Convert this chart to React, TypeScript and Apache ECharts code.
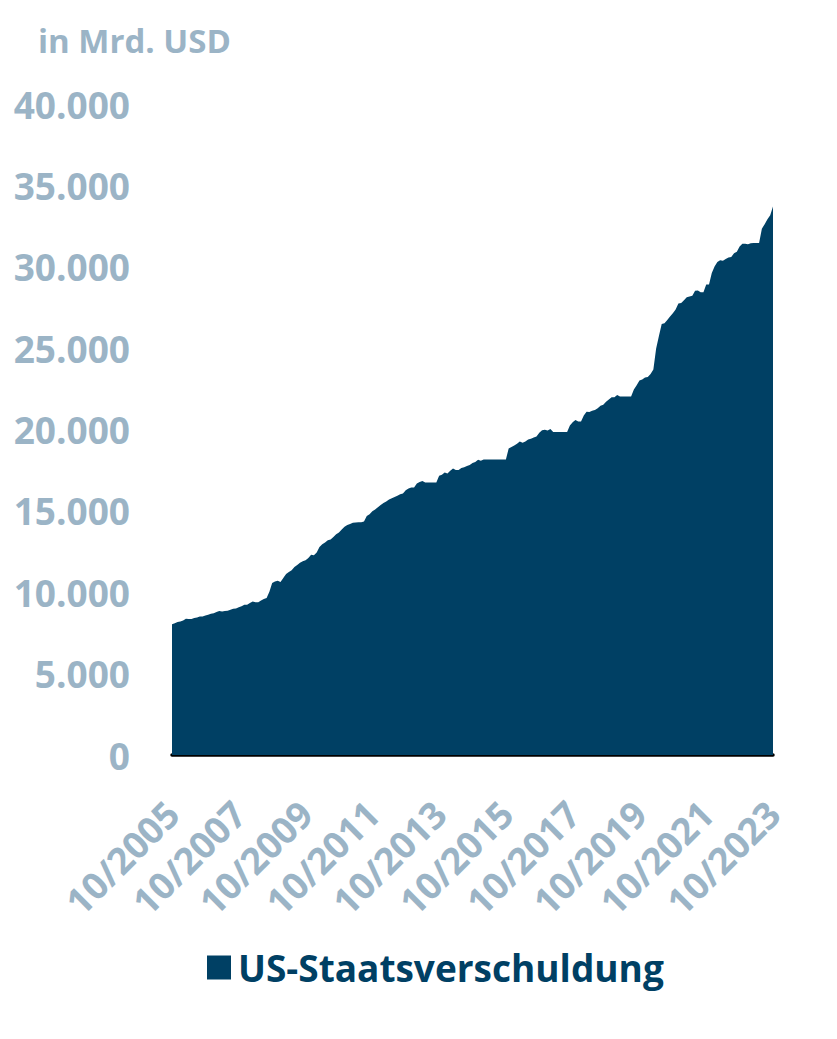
import React, { useEffect, useRef } from "react";
import * as echarts from "echarts";

const startYear = 2005;
const startMonth = 10;

// US total public debt, month end, in Mrd. USD (Oct 2005 .. Oct 2023)
const debt2005 = [8027, 8092, 8170];
const debt2006 = [8196, 8270, 8371, 8355, 8356, 8420, 8444, 8506, 8507, 8572, 8616, 8680];
const debt2007 = [8707, 8790, 8849, 8815, 8848, 8867, 8931, 8983, 9008, 9079, 9144, 9229];
const debt2008 = [9238, 9338, 9437, 9392, 9389, 9492, 9585, 9645, 10025, 10574, 10662, 10700];
const debt2009 = [10632, 10877, 11127, 11238, 11349, 11545, 11677, 11813, 11910, 11973, 12097, 12311];
const debt2010 = [12278, 12440, 12773, 12948, 13050, 13202, 13239, 13400, 13562, 13667, 13862, 14025];
const debt2011 = [14131, 14195, 14270, 14290, 14294, 14294, 14342, 14684, 14790, 14975, 15082, 15223];
const debt2012 = [15356, 15486, 15582, 15692, 15770, 15856, 15928, 16016, 16066, 16261, 16370, 16433];
const debt2013 = [16433, 16687, 16771, 16829, 16739, 16738, 16738, 16738, 16738, 17156, 17217, 17352];
const debt2014 = [17293, 17463, 17601, 17508, 17517, 17632, 17688, 17750, 17824, 17938, 18005, 18141];
const debt2015 = [18082, 18156, 18152, 18152, 18152, 18152, 18151, 18151, 18151, 18153, 18827, 18922];
const debt2016 = [19012, 19126, 19264, 19187, 19265, 19381, 19428, 19510, 19573, 19805, 19948, 19977];
const debt2017 = [19937, 20035, 19846, 19846, 19846, 19845, 19845, 19845, 20245, 20442, 20590, 20493];
const debt2018 = [20494, 20855, 21089, 21069, 21145, 21195, 21313, 21458, 21516, 21702, 21850, 21974];
const debt2019 = [21982, 22115, 22028, 22028, 22028, 22023, 22023, 22460, 22719, 23008, 23076, 23201];
const debt2020 = [23224, 23409, 23687, 24974, 25746, 26477, 26525, 26728, 26945, 27141, 27375, 27748];
const debt2021 = [27780, 27940, 28133, 28176, 28225, 28529, 28543, 28428, 28428, 28908, 28909, 29617];
const debt2022 = [30012, 30290, 30401, 30366, 30470, 30568, 30597, 30832, 30929, 31238, 31418, 31420];
const debt2023 = [31381, 31443, 31458, 31458, 31465, 32332, 32608, 32914, 33167, 33700];

const debtValues = [
  ...debt2005, ...debt2006, ...debt2007, ...debt2008, ...debt2009, ...debt2010,
  ...debt2011, ...debt2012, ...debt2013, ...debt2014, ...debt2015, ...debt2016,
  ...debt2017, ...debt2018, ...debt2019, ...debt2020, ...debt2021, ...debt2022, ...debt2023,
];

const categories = debtValues.map((_, i) => {
  const m = ((startMonth - 1 + i) % 12) + 1;
  const y = startYear + Math.floor((startMonth - 1 + i) / 12);
  return (m < 10 ? "0" + m : "" + m) + "/" + y;
});

const yTicks = [0, 5000, 10000, 15000, 20000, 25000, 30000, 35000, 40000];

const seriesName = "US-Staatsverschuldung";
const unitLabel = "in Mrd. USD";

const NAVY = "#004064";
const LIGHT = "#9BB4C6";
const FONT = "'Open Sans', sans-serif";

export default function App() {
  const ref = useRef<HTMLDivElement>(null);
  useEffect(() => {
    document.body.style.margin = "0";
    if (!ref.current) return;
    const chart = echarts.init(ref.current, undefined, { renderer: "svg" });
    chart.setOption({
      animation: false,
      backgroundColor: "#ffffff",
      title: {
        text: unitLabel,
        left: 33,
        top: 19,
        textStyle: { color: LIGHT, fontFamily: FONT, fontWeight: "bold", fontSize: 33 },
      },
      grid: { left: 172, right: 64, top: 104, bottom: 284, containLabel: false },
      legend: {
        data: [seriesName],
        left: 202,
        top: 944,
        icon: "rect",
        itemWidth: 24,
        itemHeight: 24,
        itemGap: 10,
        textStyle: { color: NAVY, fontFamily: FONT, fontWeight: "bold", fontSize: 37, padding: [0, 0, 0, 2] },
      },
      xAxis: {
        type: "category",
        data: categories,
        boundaryGap: false,
        axisLine: { show: true, lineStyle: { color: "#000000", width: 3.5 } },
        axisTick: { show: false },
        axisLabel: {
          interval: 23,
          rotate: 45,
          margin: 52,
          color: LIGHT,
          fontFamily: FONT,
          fontWeight: "bold",
          fontSize: 37,
        },
        splitLine: { show: false },
      },
      yAxis: {
        type: "value",
        min: yTicks[0],
        max: yTicks[yTicks.length - 1],
        interval: 5000,
        axisLine: { show: false },
        axisTick: { show: false },
        splitLine: { show: false },
        axisLabel: {
          margin: 42,
          color: LIGHT,
          fontFamily: FONT,
          fontWeight: "bold",
          fontSize: 37,
          formatter: (v: number) => v.toLocaleString("de-DE"),
        },
      },
      series: [
        {
          name: seriesName,
          type: "line",
          data: debtValues,
          symbol: "none",
          lineStyle: { width: 0, color: NAVY },
          itemStyle: { color: NAVY },
          areaStyle: { color: NAVY, opacity: 1 },
        },
      ],
    });
    return () => chart.dispose();
  }, []);
  return <div ref={ref} style={{ width: 837, height: 1039 }} />;
}
